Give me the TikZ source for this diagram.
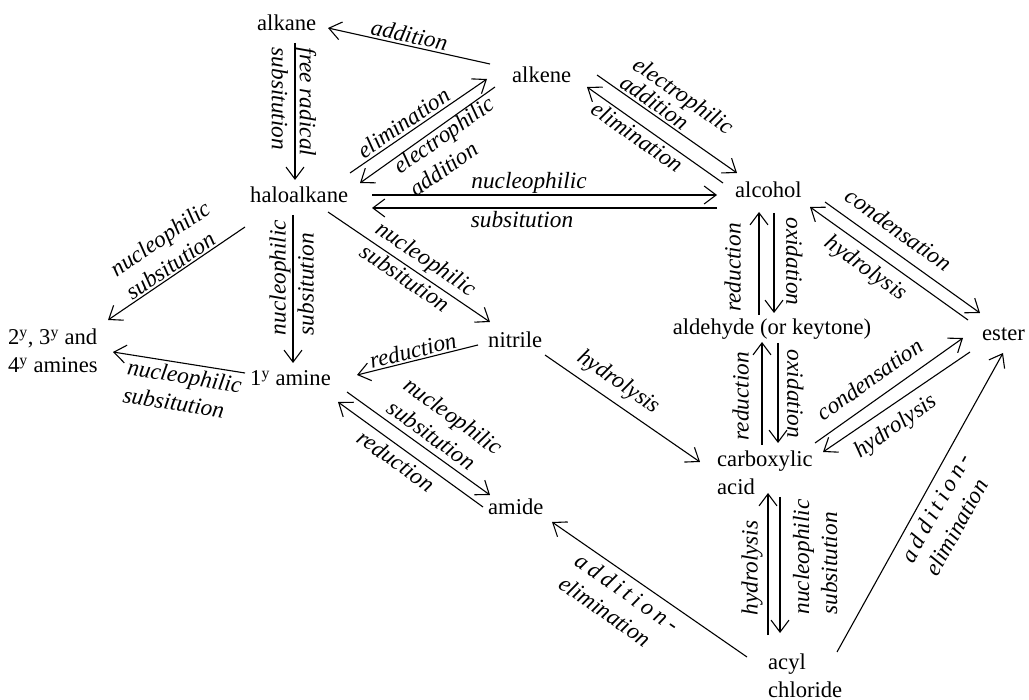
\documentclass[tikz,border=0pt]{standalone}
\usepackage{fontspec}
\setmainfont{Liberation Serif}
\usetikzlibrary{arrows.meta}
\newcommand\chemlab[2][28pt]{{\fontsize{23.3}{#1}\selectfont\begin{tabular}{@{}l@{}}#2\end{tabular}}}
\newcommand\spacedaddition{a\kern.19em d\kern.19em d\kern.19em i\kern.19em t\kern.19em i\kern.19em o\kern.19em n\kern.19em -}
\begin{document}
\begin{tikzpicture}[x=1pt,y=-1pt,
  chem/.style={inner sep=0pt, anchor=base west, font=\fontsize{22.6}{28}\selectfont},
  arr/.style={line width=1.1pt, -{Straight Barb[length=12pt,width=18pt]}},
  lab/.style={inner sep=0pt, anchor=center, font=\fontsize{23.3}{28}\selectfont\itshape}]
\useasboundingbox (0,0) rectangle (1029,700);

% compounds
\node[chem] (alkane) at (257,31) {alkane};
\node[chem] (alkene) at (512,83) {alkene};
\node[chem] (haloalkane) at (250,203) {haloalkane};
\node[chem] (alcohol) at (735,198) {alcohol};
\node[chem, anchor=base] (aldehyde) at (772,335) {aldehyde (or keytone)};
\node[chem] (ester) at (982,341) {ester};
\node[chem] (amines) at (8,345) {\vtop{\hbox{2\textsuperscript{y}, 3\textsuperscript{y} and}\hbox{4\textsuperscript{y} amines}}};
\node[chem] (amine) at (250,386) {1\textsuperscript{y} amine};
\node[chem] (nitrile) at (488,348) {nitrile};
\node[chem] (carboxylic) at (717,467) {\vtop{\hbox{carboxylic}\hbox{acid}}};
\node[chem] (amide) at (488,515) {amide};
\node[chem] (acyl) at (768,669) {\vtop{\hbox{acyl}\hbox{chloride}}};

% reactions
\draw[arr] ([shift={(-22,-19)}]alkene.base west) -- ([shift={(71,-3)}]alkane.base west);
\draw[arr] ([shift={(38,12)}]alkane.base west) -- ([shift={(45,-23)}]haloalkane.base west);
\draw[arr] ([shift={(100,-30)}]haloalkane.base west) -- ([shift={(-25,-4)}]alkene.base west);
\draw[arr] ([shift={(-17,4)}]alkene.base west) -- ([shift={(110,-20)}]haloalkane.base west);
\draw[arr] ([shift={(122,-8)}]haloalkane.base west) -- ([shift={(-18,-3)}]alcohol.base west);
\draw[arr] ([shift={(-18,10)}]alcohol.base west) -- ([shift={(122,5)}]haloalkane.base west);
\draw[arr] ([shift={(85,-8)}]alkene.base west) -- ([shift={(2,-25)}]alcohol.base west);
\draw[arr] ([shift={(-12,-15)}]alcohol.base west) -- ([shift={(75,4)}]alkene.base west);
\draw[arr] ([shift={(-5,24)}]haloalkane.base west) -- ([shift={(100,-25)}]amines.base west);
\draw[arr] ([shift={(-5,-13)}]amine.base west) -- ([shift={(105,7)}]amines.base west);
\draw[arr] ([shift={(43,12)}]haloalkane.base west) -- ([shift={(43,-23)}]amine.base west);
\draw[arr] ([shift={(78,9)}]haloalkane.base west) -- ([shift={(2,-26)}]nitrile.base west);
\draw[arr] ([shift={(-10,-3)}]nitrile.base west) -- ([shift={(107,-11)}]amine.base west);
\draw[arr] ([shift={(97,6)}]amine.base west) -- ([shift={(2,-20)}]amide.base west);
\draw[arr] ([shift={(-5,-8)}]amide.base west) -- ([shift={(88,16)}]amine.base west);
\draw[arr] ([shift={(57,7)}]nitrile.base west) -- ([shift={(-17,-5)}]carboxylic.base west);
\draw[arr] ([shift={(39,15)}]alcohol.base west) -- ([shift={(2,-22)}]aldehyde.base);
\draw[arr] ([shift={(-13,-20)}]aldehyde.base) -- ([shift={(24,14)}]alcohol.base west);
\draw[arr] ([shift={(6,8)}]aldehyde.base) -- ([shift={(61,-24)}]carboxylic.base west);
\draw[arr] ([shift={(45,-22)}]carboxylic.base west) -- ([shift={(-10,7)}]aldehyde.base);
\draw[arr] ([shift={(90,4)}]alcohol.base west) -- ([shift={(-2,-28)}]ester.base west);
\draw[arr] ([shift={(-14,-21)}]ester.base west) -- ([shift={(75,9)}]alcohol.base west);
\draw[arr] ([shift={(98,-24)}]carboxylic.base west) -- ([shift={(-19,-3)}]ester.base west);
\draw[arr] ([shift={(-12,11)}]ester.base west) -- ([shift={(106,-15)}]carboxylic.base west);
\draw[arr] ([shift={(69,-17)}]acyl.base west) -- ([shift={(21,12)}]ester.base west);
\draw[arr] ([shift={(63,30)}]carboxylic.base west) -- ([shift={(12,-36)}]acyl.base west);
\draw[arr] ([shift={(0,-34)}]acyl.base west) -- ([shift={(51,26)}]carboxylic.base west);
\draw[arr] ([shift={(-21,-12)}]acyl.base west) -- ([shift={(64,7)}]amide.base west);

% labels
\node[lab, rotate=-12.5] (l1) at (409,37) {\chemlab{addition}};
\node[lab, rotate=-90] (l2) at (291.5,102) {\chemlab{free radical\\subsitution}};
\node[lab, rotate=34.5] (l3) at (405,124.5) {\chemlab{elimination}};
\node[lab, rotate=35] (l4) at (453,148) {\chemlab{electrophilic\\addition}};
\node[lab] (l5) at (529,183) {\chemlab{nucleophilic}};
\node[lab] (l6) at (522,222) {\chemlab{subsitution}};
\node[lab, rotate=-35] (l7) at (675.5,106.5) {\chemlab[20pt]{electrophilic\\addition}};
\node[lab, rotate=-35] (l8) at (636,138.5) {\chemlab{elimination}};
\node[lab, rotate=34.2] (l9) at (169,252) {\chemlab{nucleophilic\\subsitution}};
\node[lab, rotate=-9.3] (l10) at (182,392) {\chemlab{nucleophilic\\subsitution}};
\node[lab, rotate=90] (l11) at (294,277.5) {\chemlab{nucleophilic\\subsitution}};
\node[lab, rotate=-34.2] (l12) at (417.6,271.6) {\chemlab{nucleophilic\\subsitution}};
\node[lab, rotate=14] (l13) at (413.5,352.5) {\chemlab{reduction}};
\node[lab, rotate=-35.8] (l14) at (444,429) {\chemlab{nucleophilic\\subsitution}};
\node[lab, rotate=-35.8] (l15) at (395,462.5) {\chemlab{reduction}};
\node[lab, rotate=-34.6] (l16) at (618.5,382.5) {\chemlab{hydrolysis}};
\node[lab, rotate=-90] (l17) at (792,261.5) {\chemlab{oxidation}};
\node[lab, rotate=90] (l18) at (735,267.5) {\chemlab{reduction}};
\node[lab, rotate=-90] (l19) at (793,394) {\chemlab{oxidation}};
\node[lab, rotate=90] (l20) at (743,396) {\chemlab{reduction}};
\node[lab, rotate=-35.6] (l21) at (897.5,231.5) {\chemlab{condensation}};
\node[lab, rotate=-35.6] (l22) at (865.5,269) {\chemlab{hydrolysis}};
\node[lab, rotate=35.4] (l23) at (871,381) {\chemlab{condensation}};
\node[lab, rotate=34.5] (l24) at (896,427) {\chemlab{hydrolysis}};
\node[lab, rotate=61] (l25) at (949.7,515.3) {\chemlab{\spacedaddition\\elimination}};
\node[lab, rotate=90] (l26) at (817.5,557) {\chemlab{nucleophilic\\subsitution}};
\node[lab, rotate=90] (l27) at (752,568) {\chemlab{hydrolysis}};
\node[lab, rotate=-34.7] (l28) at (618,605.5) {\chemlab{\spacedaddition\\elimination}};
\end{tikzpicture}
\end{document}
